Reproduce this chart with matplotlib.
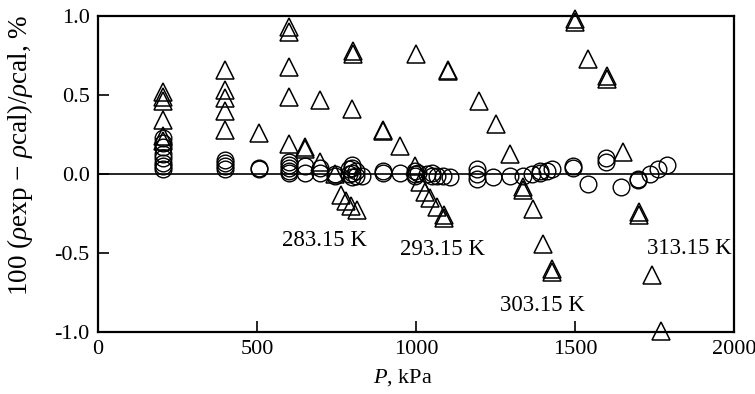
import matplotlib
matplotlib.use('Agg')
import matplotlib.pyplot as plt

plt.rcParams['font.family'] = ['Liberation Serif', 'DejaVu Serif']
plt.rcParams['mathtext.fontset'] = 'custom'
plt.rcParams['mathtext.rm'] = 'Liberation Serif'
plt.rcParams['mathtext.it'] = 'Liberation Serif:italic'

# deviations, triangle model
tri_p = [204, 204, 204, 204, 204, 204,
         400, 400, 400, 400, 400,
         506,
         600, 600, 600, 600, 600,
         651, 651,
         698, 698,
         745, 765, 780, 796, 815,
         802, 802, 799,
         896, 896, 950,
         1000, 997, 1013, 1028, 1044, 1066, 1088, 1088,
         1101, 1101, 1198, 1252, 1296,
         1337, 1337, 1368, 1400, 1427, 1427,
         1500, 1500, 1541, 1600, 1600, 1651,
         1701, 1701, 1742, 1770]
tri_dev = [0.52, 0.49, 0.46, 0.34, 0.24, 0.21,
           0.66, 0.53, 0.48, 0.40, 0.28,
           0.26,
           0.93, 0.90, 0.68, 0.49, 0.19,
           0.17, 0.16,
           0.47, 0.08,
           0.0, -0.13, -0.17, -0.20, -0.23,
           0.78, 0.76, 0.41,
           0.28, 0.27, 0.18,
           0.76, 0.05, -0.05, -0.11, -0.15, -0.21, -0.28, -0.26,
           0.66, 0.65, 0.46, 0.32, 0.13,
           -0.08, -0.10, -0.22, -0.44, -0.60, -0.62,
           0.98, 0.96, 0.73, 0.62, 0.60, 0.14,
           -0.24, -0.26, -0.64, -0.99]

# deviations, circle model
circ_p = [204, 204, 204, 204, 204, 204, 204, 204,
          400, 400, 400, 400,
          505, 505,
          600, 600, 600, 600, 600,
          651, 651, 698, 698,
          745, 745, 790, 790,
          800, 800, 800, 800, 810, 810, 830,
          896, 896, 950,
          997, 997, 997, 1005, 1034, 1050, 1050, 1066, 1085, 1107,
          1192, 1192, 1192, 1243, 1296, 1337, 1365, 1390, 1390, 1411, 1427,
          1494, 1494, 1541, 1597, 1597, 1645, 1698, 1698, 1736, 1761, 1789]
circ_dev = [0.23, 0.20, 0.17, 0.13, 0.10, 0.07, 0.05, 0.03,
            0.09, 0.07, 0.05, 0.03,
            0.04, 0.03,
            0.08, 0.06, 0.04, 0.02, 0.01,
            0.05, 0.01, 0.04, 0.01,
            0.0, -0.01, 0.03, 0.0,
            0.06, 0.04, 0.01, -0.02, 0.02, -0.01, -0.01,
            0.02, 0.01, 0.01,
            0.02, 0.0, -0.01, 0.01, 0.0, 0.01, -0.01, -0.01, -0.01, -0.02,
            0.03, 0.0, -0.03, -0.02, -0.01, -0.01, 0.0, 0.01, 0.02, 0.02, 0.03,
            0.05, 0.04, -0.06, 0.08, 0.10, -0.08, -0.04, -0.03, 0.0, 0.03, 0.06]

isotherms = ['283.15 K', '293.15 K', '303.15 K', '313.15 K']
label_p = [579, 950, 1264, 1726]
label_dev = [-0.42, -0.48, -0.83, -0.47]

fig = plt.figure(figsize=(7.55, 3.94), dpi=100)
ax = fig.add_axes([0.13, 0.157, 0.842, 0.802])

ax.axhline(0, color='black', lw=1.2, zorder=1)
ax.plot(circ_p, circ_dev, 'o', ms=12, mfc='none', mec='black', mew=1.0,
        clip_on=False, zorder=3)
ax.plot(tri_p, tri_dev, '^', ms=13, mfc='none', mec='black', mew=1.1,
        clip_on=False, zorder=4)

for name, x, y in zip(isotherms, label_p, label_dev):
    ax.text(x, y, name, fontsize=16.5, ha='left', va='center')

ax.set_xlim(0, 2000)
ax.set_ylim(-1.0, 1.0)
ax.set_xticks([0, 500, 1000, 1500, 2000])
ax.set_yticks([-1.0, -0.5, 0.0, 0.5, 1.0])
ax.set_yticklabels(['-1.0', '-0.5', '0.0', '0.5', '1.0'])
ax.tick_params(direction='in', length=8, width=1.2, labelsize=16, pad=6,
               top=False, right=False)
for s in ax.spines.values():
    s.set_linewidth(1.6)

ax.set_xlabel('$P$, kPa', fontsize=16)
ax.xaxis.set_label_coords(0.48, -0.112)
ax.set_ylabel(r'100 ($\rho$exp$\,-\,\rho$cal)/$\rho$cal, %', fontsize=19.5)
ax.yaxis.set_label_coords(-0.1, 0.56)

fig.savefig('out.png', dpi=100)
